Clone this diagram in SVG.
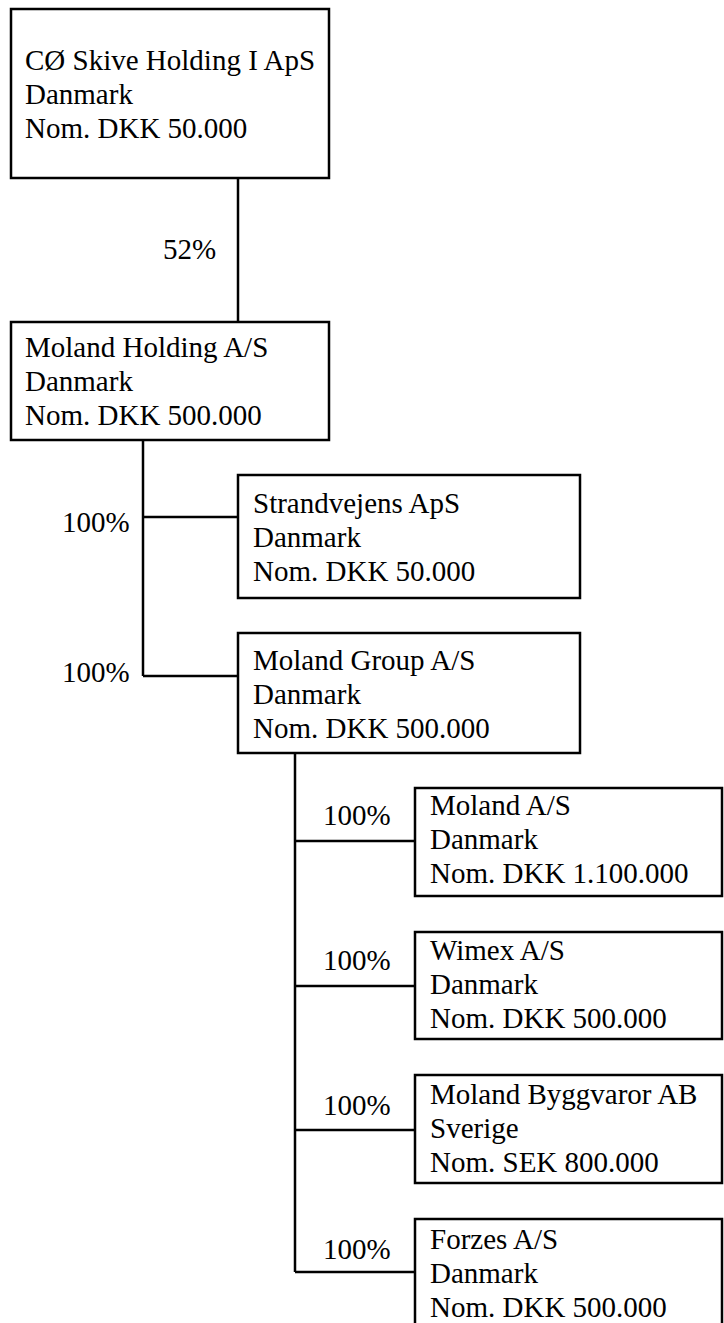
<svg xmlns="http://www.w3.org/2000/svg" width="724" height="1323" viewBox="0 0 724 1323" font-family="Liberation Serif" font-size="29">
<rect width="724" height="1323" fill="#fff"/>
<g id="connectors" stroke="#000" stroke-width="2.5" fill="none">
<line x1="238" y1="178" x2="238" y2="322"/>
<line x1="143" y1="440" x2="143" y2="676"/>
<line x1="143" y1="517" x2="238" y2="517"/>
<line x1="143" y1="676" x2="238" y2="676"/>
<line x1="295" y1="753" x2="295" y2="1272"/>
<line x1="295" y1="841" x2="415" y2="841"/>
<line x1="295" y1="986" x2="415" y2="986"/>
<line x1="295" y1="1130" x2="415" y2="1130"/>
<line x1="295" y1="1272" x2="415" y2="1272"/>
</g>
<g id="labels" fill="#000">
<text x="163" y="259" style="font-family:'Liberation Serif',serif">52%</text>
<text x="62" y="532" style="font-family:'Liberation Serif',serif">100%</text>
<text x="62" y="682" style="font-family:'Liberation Serif',serif">100%</text>
<text x="323" y="825" style="font-family:'Liberation Serif',serif">100%</text>
<text x="323" y="970" style="font-family:'Liberation Serif',serif">100%</text>
<text x="323" y="1115" style="font-family:'Liberation Serif',serif">100%</text>
<text x="323" y="1259" style="font-family:'Liberation Serif',serif">100%</text>
</g>
<g id="n1">
<rect x="11" y="9" width="318" height="169" fill="#fff" stroke="#000" stroke-width="2.5"/>
<text x="25" y="70" style="font-family:'Liberation Serif',serif">CØ Skive Holding I ApS</text>
<text x="25" y="104" style="font-family:'Liberation Serif',serif">Danmark</text>
<text x="25" y="138" style="font-family:'Liberation Serif',serif">Nom. DKK 50.000</text>
</g>
<g id="n2">
<rect x="11" y="322" width="318" height="118" fill="#fff" stroke="#000" stroke-width="2.5"/>
<text x="25" y="357" style="font-family:'Liberation Serif',serif">Moland Holding A/S</text>
<text x="25" y="391" style="font-family:'Liberation Serif',serif">Danmark</text>
<text x="25" y="425" style="font-family:'Liberation Serif',serif">Nom. DKK 500.000</text>
</g>
<g id="n3">
<rect x="238" y="475" width="342" height="123" fill="#fff" stroke="#000" stroke-width="2.5"/>
<text x="253" y="513" style="font-family:'Liberation Serif',serif">Strandvejens ApS</text>
<text x="253" y="547" style="font-family:'Liberation Serif',serif">Danmark</text>
<text x="253" y="581" style="font-family:'Liberation Serif',serif">Nom. DKK 50.000</text>
</g>
<g id="n4">
<rect x="238" y="633" width="342" height="120" fill="#fff" stroke="#000" stroke-width="2.5"/>
<text x="253" y="670" style="font-family:'Liberation Serif',serif">Moland Group A/S</text>
<text x="253" y="704" style="font-family:'Liberation Serif',serif">Danmark</text>
<text x="253" y="738" style="font-family:'Liberation Serif',serif">Nom. DKK 500.000</text>
</g>
<g id="n5">
<rect x="415" y="788" width="307" height="108" fill="#fff" stroke="#000" stroke-width="2.5"/>
<text x="430" y="815" style="font-family:'Liberation Serif',serif">Moland A/S</text>
<text x="430" y="849" style="font-family:'Liberation Serif',serif">Danmark</text>
<text x="430" y="883" style="font-family:'Liberation Serif',serif">Nom. DKK 1.100.000</text>
</g>
<g id="n6">
<rect x="415" y="932" width="307" height="107" fill="#fff" stroke="#000" stroke-width="2.5"/>
<text x="430" y="960" style="font-family:'Liberation Serif',serif">Wimex A/S</text>
<text x="430" y="994" style="font-family:'Liberation Serif',serif">Danmark</text>
<text x="430" y="1028" style="font-family:'Liberation Serif',serif">Nom. DKK 500.000</text>
</g>
<g id="n7">
<rect x="415" y="1075" width="307" height="108" fill="#fff" stroke="#000" stroke-width="2.5"/>
<text x="430" y="1104" style="font-family:'Liberation Serif',serif">Moland Byggvaror AB</text>
<text x="430" y="1138" style="font-family:'Liberation Serif',serif">Sverige</text>
<text x="430" y="1172" style="font-family:'Liberation Serif',serif">Nom. SEK 800.000</text>
</g>
<g id="n8">
<rect x="415" y="1219" width="307" height="120" fill="#fff" stroke="#000" stroke-width="2.5"/>
<text x="430" y="1249" style="font-family:'Liberation Serif',serif">Forzes A/S</text>
<text x="430" y="1283" style="font-family:'Liberation Serif',serif">Danmark</text>
<text x="430" y="1317" style="font-family:'Liberation Serif',serif">Nom. DKK 500.000</text>
</g>
</svg>
